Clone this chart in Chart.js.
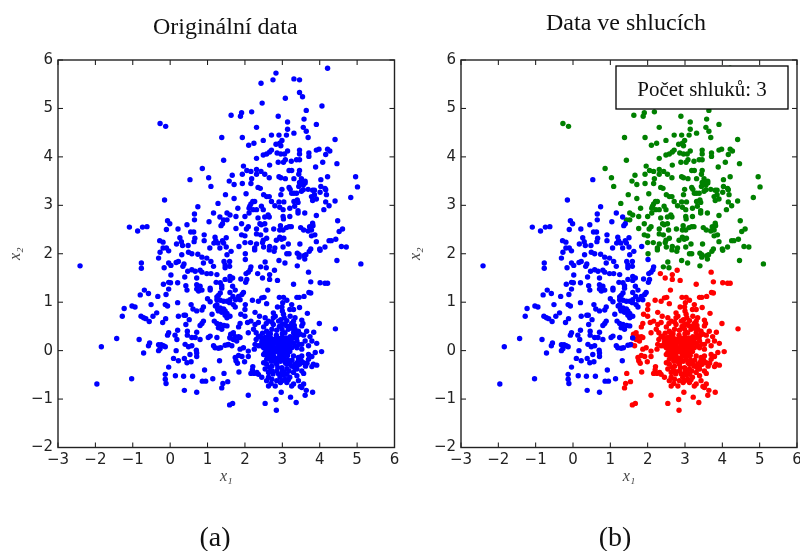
<!DOCTYPE html>
<html><head><meta charset="utf-8">
<script src="https://cdn.jsdelivr.net/npm/chart.js@4"></script>
<style>html,body{margin:0;padding:0;background:#fff}canvas{position:absolute;top:0}#wrapA,#wrapB{position:absolute;top:0;width:400px;height:551px}#wrapA{left:0}#wrapB{left:400px}</style>
</head><body>
<div id="wrapA"><canvas id="a"></canvas></div><div id="wrapB"><canvas id="b"></canvas></div>
<script>
const titleA="Originální data", titleB="Data ve shlucích", captionA="(a)", captionB="(b)", boxLabel="Počet shluků: 3";
const xLabel="x₁", yLabel="x₂";
const xTicks=[-3,-2,-1,0,1,2,3,4,5,6], yTicks=[-2,-1,0,1,2,3,4,5,6];
const clusterGreen=[[4.21,5.83],[2.83,5.73],[2.75,5.59],[2.43,5.52],[3.31,5.61],[3.46,5.59],[3.46,5.33],[3.54,5.24],[3.08,5.21],[2.46,5.11],[4.06,5.05],[3.64,4.96],[2.18,4.93],[1.91,4.91],[1.88,4.84],[1.63,4.86],[2.89,4.84],[3.58,4.78],[3.14,4.72],[3.91,4.67],[-0.27,4.69],[-0.12,4.63],[2.31,4.61],[3.56,4.61],[3.14,4.57],[3.64,4.53],[3.31,4.49],[2.71,4.45],[2.91,4.45],[3.11,4.45],[1.38,4.40],[1.93,4.40],[3.69,4.40],[4.41,4.36],[2.49,4.34],[2.99,4.34],[2.93,4.28],[2.83,4.26],[2.24,4.28],[2.10,4.24],[2.96,4.23],[3.14,4.12],[3.46,4.14],[2.71,4.14],[2.66,4.10],[2.58,4.06],[2.49,4.04],[2.86,4.08],[2.96,4.06],[3.06,4.06],[3.46,4.06],[3.71,4.08],[3.71,4.01],[3.91,4.14],[3.98,4.16],[4.21,4.16],[4.27,4.12],[4.16,4.05],[3.08,3.94],[2.31,3.97],[1.43,3.93],[3.38,3.94],[3.46,3.94],[3.24,3.91],[2.89,3.89],[3.03,3.89],[4.08,3.89],[4.46,3.86],[2.66,3.83],[1.96,3.81],[3.89,3.79],[0.86,3.76],[2.05,3.72],[2.16,3.70],[2.31,3.74],[2.43,3.70],[3.18,3.72],[3.25,3.72],[3.46,3.72],[2.31,3.64],[1.93,3.64],[2.53,3.64],[3.44,3.64],[1.66,3.62],[1.03,3.57],[2.65,3.57],[2.91,3.59],[2.96,3.57],[3.08,3.55],[4.21,3.59],[4.96,3.59],[5.01,3.38],[4.83,3.16],[4.41,3.09],[2.18,3.55],[1.58,3.50],[3.31,3.55],[3.51,3.55],[3.61,3.50],[3.46,3.47],[3.52,3.46],[4.03,3.53],[1.71,3.43],[1.93,3.45],[2.16,3.45],[1.09,3.39],[2.35,3.37],[2.41,3.35],[2.99,3.33],[3.18,3.37],[3.21,3.33],[3.44,3.39],[3.56,3.42],[3.61,3.46],[3.69,3.33],[3.81,3.31],[3.86,3.31],[4.03,3.39],[4.14,3.35],[4.16,3.32],[4.18,3.22],[4.01,3.27],[3.86,3.22],[3.78,3.18],[3.91,3.13],[3.81,3.1],[3.25,3.25],[3.31,3.25],[3.38,3.25],[3.51,3.29],[3.56,3.32],[3.4,3.11],[3.31,3.08],[2.96,3.22],[2.71,3.08],[2.5,3.22],[2.58,3.18],[2.65,3.18],[1.48,3.22],[1.71,3.14],[2.03,3.24],[1.28,3.04],[2.21,3.08],[2.26,3.08],[2.13,2.98],[2.16,3.03],[2.11,2.94],[2.22,2.91],[2.31,2.91],[2.44,2.98],[2.49,2.91],[2.8,2.99],[2.91,3.07],[3.04,3.07],[2.93,2.96],[3.02,2.91],[3.2,2.94],[3.33,2.98],[3.42,3.06],[4.11,2.91],[4.25,2.99],[4.16,3.07],[1.52,2.84],[1.6,2.8],[1.81,2.94],[2.11,2.84],[1.76,2.77],[2.0,2.77],[2.35,2.74],[2.53,2.76],[2.62,2.8],[2.65,2.76],[3.42,2.84],[3.6,2.84],[3.42,2.89],[3.02,2.77],[3.03,2.72],[3.2,2.77],[3.91,2.79],[1.43,2.7],[1.52,2.7],[4.48,2.68],[3.81,2.63],[3.82,2.58],[3.73,2.56],[3.18,2.56],[3.24,2.56],[3.11,2.54],[2.95,2.58],[2.93,2.49],[3.02,2.49],[2.4,2.62],[2.44,2.6],[2.53,2.62],[1.91,2.62],[2.09,2.56],[2.04,2.51],[1.76,2.52],[2.31,2.51],[2.56,2.49],[2.77,2.51],[3.49,2.54],[3.57,2.49],[3.69,2.47],[3.78,2.49],[3.87,2.39],[4.61,2.51],[4.52,2.46],[1.91,2.39],[2.0,2.37],[2.31,2.41],[2.42,2.39],[2.0,2.23],[2.15,2.23],[2.31,2.2],[2.49,2.28],[2.47,2.23],[2.58,2.32],[2.66,2.15],[2.84,2.28],[2.93,2.34],[2.98,2.3],[3.04,2.32],[3.16,2.2],[3.47,2.2],[3.78,2.37],[3.91,2.25],[4.25,2.27],[4.31,2.27],[4.43,2.3],[4.58,2.15],[4.71,2.14],[2.8,2.12],[3.02,2.14],[2.5,2.14],[2.26,2.12],[3.76,2.1],[4.0,2.1],[4.14,2.14],[2.01,2.0],[2.26,2.08],[2.54,1.83],[2.42,1.73],[2.57,1.71],[2.91,1.86],[3.07,1.81],[3.12,2.0],[3.18,2.0],[3.4,2.01],[3.45,1.93],[3.4,1.75],[3.6,1.89],[3.63,1.98],[3.72,2.05],[4.01,2.07],[4.46,1.86],[5.1,1.79],[2.65,2.08],[2.78,2.05],[3.45,1.98],[3.58,1.96]];
const clusterBlue=[[0.53,3.53],[-0.15,3.11],[0.74,2.97],[0.65,2.82],[0.65,2.7],[-0.07,2.68],[-0.01,2.62],[0.45,2.6],[1.04,2.66],[1.16,2.84],[1.33,2.76],[1.4,2.62],[1.36,2.58],[-1.09,2.55],[-0.87,2.47],[-0.74,2.55],[-0.62,2.56],[-0.1,2.5],[0.21,2.51],[0.55,2.45],[0.63,2.45],[0.91,2.39],[-0.28,2.27],[-0.19,2.24],[0.26,2.33],[0.3,2.25],[0.17,2.2],[0.33,2.17],[0.48,2.17],[0.66,2.32],[0.64,2.25],[0.91,2.27],[1.2,2.34],[1.22,2.27],[1.17,2.22],[1.28,2.22],[1.4,2.27],[1.5,2.33],[1.43,2.22],[1.5,2.14],[1.06,2.12],[1.33,2.12],[1.84,2.15],[-0.1,2.12],[-0.19,2.12],[-0.04,2.06],[-0.27,2.03],[-0.31,1.91],[0.31,1.98],[0.49,2.03],[0.58,2.0],[0.74,1.99],[0.85,1.93],[0.98,1.91],[1.09,1.84],[0.89,1.81],[1.16,1.74],[1.44,1.84],[1.59,1.84],[1.52,1.98],[1.63,2.05],[2.01,1.88],[-0.77,1.81],[-0.77,1.70],[-2.41,1.75],[-0.04,1.81],[-0.16,1.71],[0.02,1.76],[0.16,1.82],[0.22,1.84],[0.37,1.79],[0.34,1.74],[0.47,1.64],[0.58,1.67],[0.67,1.64],[0.8,1.66],[0.85,1.62],[0.98,1.59],[1.09,1.59],[1.25,1.57],[1.47,1.77],[1.59,1.74],[1.47,1.71],[0.02,1.56],[0.39,1.52],[0.71,1.5],[1.6,1.53],[1.67,1.5],[1.6,1.45],[1.47,1.47],[1.89,1.48],[2.05,1.47],[2.02,1.41],[2.09,1.62],[2.14,1.67],[2.03,1.59],[2.16,1.73],[-0.18,1.37],[-0.04,1.41],[0.01,1.4],[0.2,1.4],[0.42,1.34],[0.71,1.36],[0.8,1.33],[1.23,1.41],[1.34,1.4],[1.38,1.34],[1.67,1.33],[-0.04,1.27],[0.45,1.25],[0.71,1.27],[0.76,1.23],[0.85,1.25],[1.07,1.29],[1.07,1.25],[1.38,1.29],[1.74,1.25],[-0.69,1.25],[-0.58,1.18],[-0.8,1.15],[-0.33,1.12],[-0.11,1.16],[1.6,1.2],[1.34,1.19],[1.29,1.14],[1.25,1.11],[1.92,1.16],[1.96,1.2],[1.83,1.12],[1.0,1.07],[1.07,1.01],[0.2,0.99],[1.25,1.05],[1.34,1.04],[1.43,1.02],[1.52,1.02],[1.6,1.05],[1.68,1.12],[1.75,1.05],[1.87,1.05],[1.59,0.99],[1.69,0.95],[1.25,0.95],[1.21,0.92],[1.74,0.9],[-1.02,0.92],[-0.94,0.9],[-1.23,0.87],[-0.51,0.95],[-0.13,0.95],[-0.07,0.92],[0.56,0.95],[0.89,0.9],[0.61,0.86],[0.71,0.82],[0.85,0.84],[1.27,0.86],[1.34,0.88],[1.38,0.85],[1.43,0.86],[1.29,0.82],[1.38,0.79],[1.47,0.82],[1.52,0.77],[1.47,0.73],[1.6,0.71],[1.52,0.68],[1.12,0.75],[-0.36,0.78],[-0.46,0.71],[-0.78,0.71],[-0.71,0.68],[-0.65,0.66],[-1.28,0.71],[0.37,0.73],[0.41,0.73],[0.22,0.71],[-0.12,0.66],[0.51,0.64],[-0.56,0.6],[-0.2,0.58],[0.89,0.61],[0.85,0.56],[0.8,0.52],[0.42,0.54],[1.18,0.61],[1.25,0.56],[1.34,0.54],[1.44,0.52],[1.52,0.51],[1.29,0.47],[1.38,0.44],[0.2,0.42],[-0.04,0.37],[-0.07,0.32],[0.46,0.4],[0.71,0.38],[0.46,0.32],[0.13,0.32],[0.18,0.23],[0.58,0.27],[0.67,0.27],[0.8,0.23],[1.07,0.3],[1.02,0.27],[1.25,0.27],[1.6,0.26],[-1.43,0.25],[-0.83,0.23],[-0.55,0.16],[-0.58,0.1],[-0.31,0.12],[-0.24,0.12],[-0.18,0.1],[-0.13,0.08],[-0.27,0.04],[-0.31,0],[0.4,0.13],[0.49,0.08],[0.58,0.1],[1.16,0.1],[1.2,0.06],[1.29,0.05],[1.35,0.06],[1.47,0.11],[1.54,0.12],[-1.84,0.08],[-0.71,-0.05],[0.16,0],[0.7,0.01],[0.71,-0.05],[0.53,-0.08],[0.71,-0.12],[0.09,-0.16],[0.22,-0.21],[0.38,-0.16],[0.45,-0.25],[0.56,-0.23],[-0.04,-0.34],[1.32,-0.21],[0.92,-0.4],[-0.13,-0.49],[-0.13,-0.59],[-0.11,-0.68],[0.14,-0.52],[0.36,-0.53],[0.6,-0.53],[-1.03,-0.58],[-1.96,-0.69],[0.38,-0.82],[0.71,-0.86],[0.86,-0.63],[0.95,-0.63],[1.14,-0.58]];
const clusterRed=[[1.44,-0.47],[1.54,-0.64],[1.41,-0.68],[1.38,-0.77],[1.59,-1.12],[1.67,-1.09],[2.09,-0.92],[2.54,-1.09],[2.83,-1.01],[2.84,-1.23],[2.97,-0.86],[3.22,-0.96],[3.37,-1.07],[3.61,-0.92],[3.64,-0.82],[3.81,-0.86],[3.25,-0.73],[3.52,-0.76],[1.84,-0.44],[4.42,0.45],[3.99,0.56],[4.05,-0.02],[3.92,0.15],[3.84,0.38],[3.67,0.77],[3.46,0.89],[3.71,1.2],[3.76,1.19],[3.76,1.42],[3.7,1.62],[4.01,1.4],[4.14,1.39],[4.21,1.39],[3.3,1.37],[2.87,1.45],[2.79,1.66],[2.66,1.57],[2.66,1.47],[2.47,1.5],[2.34,1.59],[2.61,1.25],[3.39,1.1],[3.45,1.1],[3.58,1.12],[2.92,1.1],[3.03,1.1],[3.12,1.04],[3.01,0.99],[3.25,0.95],[3.3,0.85],[3.2,0.85],[2.87,0.9],[2.99,0.9],[2.2,1.04],[2.36,1.02],[2.45,1.09],[2.51,1.1],[2.58,0.97],[2.0,0.85],[2.01,0.95],[2.27,0.79],[1.89,0.75],[2.0,0.71],[2.39,0.71],[2.54,0.68],[2.76,0.78],[2.81,0.71],[3.0,0.82],[3.03,0.75],[3.05,0.68],[2.76,0.68],[2.63,0.61],[2.57,0.56],[2.72,0.59],[2.96,0.64],[3.21,0.71],[3.34,0.68],[3.3,0.61],[3.25,0.56],[3.52,0.63],[3.55,0.56],[3.52,0.51],[3.21,0.51],[3.16,0.44],[2.99,0.54],[2.99,0.44],[2.9,0.61],[2.76,0.54],[2.16,0.61],[2.07,0.58],[1.87,0.56],[1.83,0.49],[2.27,0.54],[2.36,0.58],[2.5,0.49],[2.23,0.44],[2.3,0.37],[2.58,0.4],[2.72,0.44],[3.07,0.37],[3.34,0.44],[3.3,0.37],[3.43,0.4],[3.65,0.4],[3.74,0.29],[3.79,0.2],[3.7,0.1],[3.48,0.34],[3.57,0.32],[3.21,0.29],[2.36,0.29],[2.3,0.23],[2.27,0.13],[2.36,0.1],[2.54,0.27],[2.63,0.29],[2.76,0.23],[2.9,0.25],[2.99,0.27],[3.07,0.22],[3.25,0.25],[3.39,0.2],[3.52,0.13],[3.61,0.2],[3.34,0.1],[3.19,0.1],[3.03,0.1],[2.9,0.11],[2.76,0.13],[2.58,0.13],[2.45,0.18],[2.5,0.06],[2.58,0.03],[2.72,0.03],[2.85,0.06],[2.99,0.03],[3.12,0.1],[3.25,0.06],[3.39,0.06],[3.52,0.03],[1.69,0.37],[1.62,0.34],[1.74,0.29],[1.83,0.29],[1.6,0.27],[1.69,0.23],[1.78,0.2],[1.87,0.27],[1.56,0.13],[1.65,0.1],[1.96,0.06],[2.09,0.37],[1.87,0.03],[2.09,-0.01],[2.25,0.03],[1.74,-0.14],[1.83,-0.1],[1.76,-0.21],[1.8,-0.26],[1.92,-0.12],[1.99,-0.23],[2.09,-0.12],[2.21,-0.33],[2.16,-0.47],[2.25,-0.47],[2.2,-0.4],[2.36,-0.49],[2.45,-0.55],[2.54,-0.04],[2.67,-0.05],[2.76,-0.1],[2.9,-0.04],[3.03,-0.05],[3.14,-0.1],[3.3,-0.11],[3.43,-0.14],[3.52,-0.11],[3.7,-0.08],[3.79,-0.12],[3.88,-0.04],[3.7,-0.18],[3.83,-0.28],[3.92,-0.3],[3.79,-0.33],[3.57,-0.25],[3.43,-0.21],[3.34,-0.28],[3.21,-0.28],[3.03,-0.18],[2.9,-0.14],[2.72,-0.18],[2.58,-0.18],[2.5,-0.25],[2.58,-0.28],[2.72,-0.32],[2.85,-0.28],[2.99,-0.35],[3.12,-0.38],[3.25,-0.32],[3.39,-0.38],[3.52,-0.42],[3.57,-0.47],[3.3,-0.45],[3.12,-0.49],[2.99,-0.49],[2.85,-0.42],[2.72,-0.42],[2.63,-0.45],[2.54,-0.38],[2.63,-0.55],[2.72,-0.59],[2.81,-0.73],[2.94,-0.55],[3.07,-0.59],[3.12,-0.66],[2.99,-0.62],[2.63,-0.73],[2.32,-0.45],[3.39,-0.52],[3.43,-0.62],[3.57,-0.69],[3.48,-0.74],[3.3,-0.69],[2.4,0.3],[2.47,0.36],[2.66,0.2],[2.82,0.18],[2.84,0.32],[2.95,0.18],[3.12,0.2],[3.16,0.16],[3.3,0.15],[3.45,0.13],[2.65,0.1],[2.7,0.16],[2.8,-0.02],[2.94,0.08],[3.08,0.02],[3.2,-0.02],[2.62,0.36],[3.1,0.52],[3.38,0.27],[3.08,-0.25],[2.95,-0.22],[3.15,-0.2],[2.65,-0.12],[2.78,-0.22],[3.4,-0.25],[3.62,-0.32],[3.66,-0.26],[2.88,-0.35],[3.0,-0.42],[3.2,-0.55],[2.85,-0.62],[2.7,-0.68],[2.58,-0.62],[2.45,0.25],[2.52,0.2],[2.6,0.22],[2.68,0.27],[2.72,0.1],[2.78,0.2],[2.84,0.24],[2.88,0.16],[2.96,0.22],[3.02,0.16],[3.1,0.26],[3.17,0.22],[3.24,0.18],[3.28,0.26],[2.42,0.1],[2.48,0.12],[2.55,0.08],[2.62,0.06],[2.68,0.0],[2.74,-0.05],[2.8,0.06],[2.86,0.02],[2.92,-0.02],[3.0,0.07],[3.05,0.12],[3.1,-0.02],[3.16,0.04],[2.5,-0.08],[2.58,-0.1],[2.62,-0.02],[2.7,-0.22],[2.8,-0.16],[2.86,-0.2],[2.96,-0.1],[3.05,-0.12],[3.12,-0.28],[3.18,-0.42],[3.26,-0.2],[3.32,-0.35],[3.4,-0.3],[3.46,-0.28],[3.5,-0.2],[2.66,-0.35],[2.75,-0.48],[2.9,-0.48],[3.05,-0.45],[3.16,-0.6],[2.95,-0.66],[3.04,-0.5],[3.32,0.52],[3.26,0.46],[3.12,0.62],[3.05,0.55],[3.42,0.33],[3.34,0.3],[2.85,0.42],[3.0,0.35],[2.92,0.5],[2.68,0.35]];
const colorBlue="#0000ff", colorGreen="#008000", colorRed="#ff0000";
const toXY=list=>list.map(([x,y])=>({x,y}));
const minus=v=>String(v).replace("-","\u2212");
const serif='"Liberation Serif"', sans='"DejaVu Sans"', inkColor="#222222";

const framePlugin={id:"frame",
 afterLayout(c){const o=c.options.plugins.frame;c.titleBlock.left+=o.titleShift;c.titleBlock.right+=o.titleShift;},
 afterDraw(c){
  const o=c.options.plugins.frame,a=c.chartArea,g=c.ctx;
  g.save();
  g.strokeStyle="#111";g.lineWidth=1;g.beginPath();
  c.scales.x.ticks.forEach(t=>{const p=c.scales.x.getPixelForValue(t.value);g.moveTo(p,a.bottom);g.lineTo(p,a.bottom-5);g.moveTo(p,a.top);g.lineTo(p,a.top+5);});
  c.scales.y.ticks.forEach(t=>{const p=c.scales.y.getPixelForValue(t.value);g.moveTo(a.left,p);g.lineTo(a.left+5,p);g.moveTo(a.right,p);g.lineTo(a.right-5,p);});
  g.stroke();
  g.strokeStyle="#222";g.lineWidth=1.4;g.strokeRect(a.left,a.top,a.right-a.left,a.bottom-a.top);
  if(o.box){
   g.fillStyle="#fff";g.fillRect(o.box.x,o.box.y,o.box.w,o.box.h);
   g.strokeStyle="#000";g.lineWidth=1.3;g.strokeRect(o.box.x,o.box.y,o.box.w,o.box.h);
   g.fillStyle="#111";g.font="21px "+serif;g.textAlign="center";g.textBaseline="middle";
   g.fillText(boxLabel,o.box.x+o.box.w/2,o.box.y+o.box.h/2+3);
  }
  g.fillStyle="#111";g.font="28px "+serif;g.textAlign="center";g.textBaseline="middle";
  g.fillText(o.caption,o.captionX,o.captionY);
  g.restore();
 }};

function build(id,title,datasets,yWidth,padRight,titleTop,titleShift,frame){
 new Chart(document.getElementById(id),{type:"scatter",plugins:[framePlugin],
  data:{datasets},
  options:{responsive:false,animation:false,events:[],
   layout:{padding:{top:0,left:0,right:padRight,bottom:65}},
   plugins:{legend:{display:false},tooltip:{enabled:false},
    title:{display:true,text:title,fullSize:false,color:"#111",font:{family:serif,size:24,weight:"normal",lineHeight:1.2},padding:{top:titleTop,bottom:60-titleTop-28.8}},
    frame:Object.assign({titleShift},frame)},
   elements:{point:{radius:2.7,borderWidth:0,hoverRadius:2.7}},
   scales:{
    x:{type:"linear",min:xTicks[0],max:xTicks[xTicks.length-1],
     afterFit(s){s.height=38.5;s.paddingRight=0;s.paddingLeft=0;},
     afterBuildTicks(s){s.ticks=xTicks.map(value=>({value}));},
     grid:{display:false,drawTicks:false},border:{display:false},
     ticks:{autoSkip:false,maxRotation:0,padding:4,color:inkColor,font:{family:sans,size:15},callback:minus},
     title:{display:true,text:xLabel,color:"#444",font:{family:serif,size:16,style:"italic"},padding:0}},
    y:{type:"linear",min:yTicks[0],max:yTicks[yTicks.length-1],
     afterFit(s){s.width=yWidth;s.paddingTop=0;s.paddingBottom=0;},
     afterBuildTicks(s){s.ticks=yTicks.map(value=>({value}));},
     grid:{display:false,drawTicks:false},border:{display:false},
     ticks:{autoSkip:false,padding:5,color:inkColor,font:{family:sans,size:15},callback:minus},
     title:{display:true,text:yLabel,color:"#444",font:{family:serif,size:16,style:"italic"},padding:{top:6,bottom:0}}}
   }}});
}
for(const id of ["a","b"]){const c=document.getElementById(id);c.width=400;c.height=551;c.style.width="400px";c.style.height="551px";}
const dot=(data,color)=>({data:toXY(data),backgroundColor:color,borderColor:color,pointRadius:2.7,pointBorderWidth:0});
build("a",titleA,[dot([...clusterBlue,...clusterGreen,...clusterRed],colorBlue)],58,5.5,13,-1,{caption:captionA,captionX:215,captionY:539});
build("b",titleB,[dot(clusterBlue,colorBlue),dot(clusterGreen,colorGreen),dot(clusterRed,colorRed)],61,3,9,-3,{caption:captionB,captionX:215,captionY:539,box:{x:216,y:66,w:172,h:43}});
</script>
</body></html>
